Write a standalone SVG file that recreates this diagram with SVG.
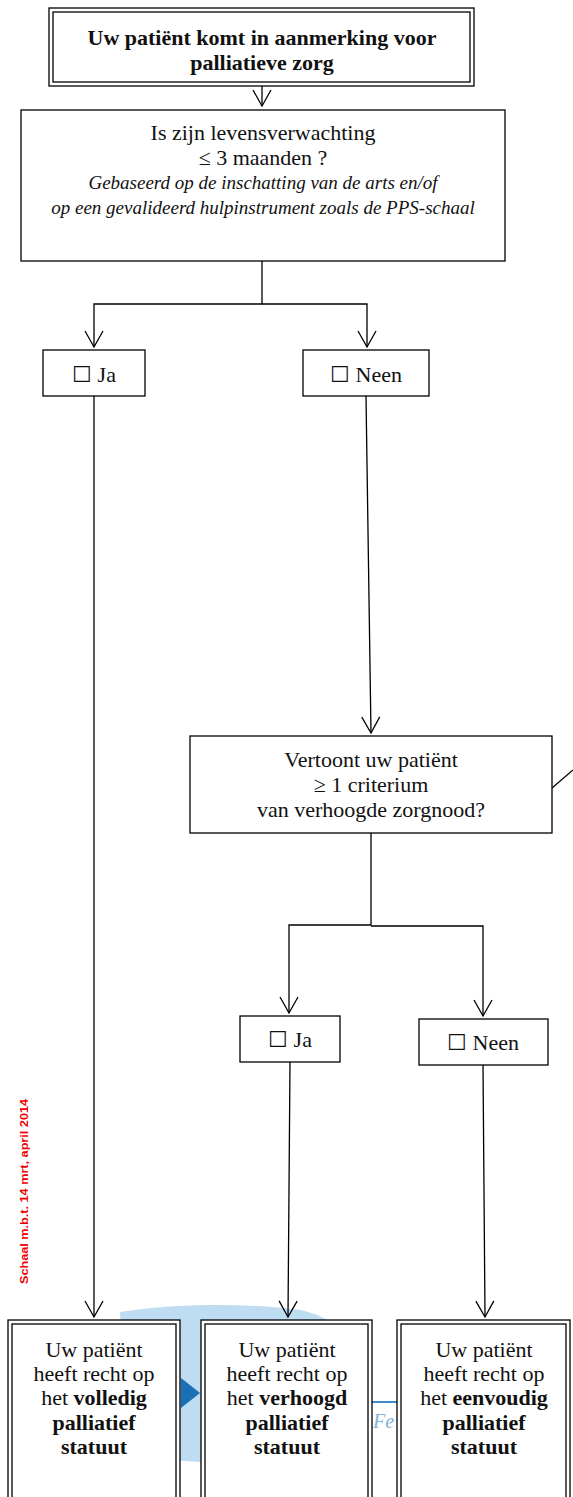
<svg xmlns="http://www.w3.org/2000/svg" width="573" height="1497" viewBox="0 0 573 1497">
<style>
.box{fill:#fff;stroke:#000;stroke-width:1.3}
.dbl{fill:none;stroke:#000;stroke-width:1.3}
.t{font-family:"Liberation Serif",serif;font-size:22px;fill:#111;text-anchor:middle}
.b{font-weight:bold}
.i{font-style:italic;font-size:19px}
.c{fill:none;stroke:#000;stroke-width:1.3}
</style>
<defs>
<marker id="ah" viewBox="0 0 20 20" refX="18" refY="10" markerWidth="20" markerHeight="20" markerUnits="userSpaceOnUse" orient="auto">
<path d="M2,1 L18,10 L2,19" fill="none" stroke="#000" stroke-width="1.3"/>
</marker>
</defs>
<rect width="573" height="1497" fill="#fff"/>
<g id="watermark">
<path d="M120,1312 C170,1304 240,1302 300,1310 C330,1316 345,1330 345,1360 L345,1440 C300,1468 200,1466 130,1455 Z" fill="#a8d0ee" opacity="0.75"/>
<path d="M181,1378 L200,1393 L181,1408 Z" fill="#1a6fb5"/>
<line x1="372" y1="1402" x2="398" y2="1402" stroke="#3a8bd0" stroke-width="2"/>
<text x="373" y="1428" font-family="Liberation Serif,serif" font-style="italic" font-size="20" fill="#7eb3e0">Fe</text>
</g>
<g id="connectors">
<line class="c" x1="262" y1="86" x2="262" y2="106" marker-end="url(#ah)"/>
<path class="c" d="M262,261 V304 H94 V347" marker-end="url(#ah)"/>
<path class="c" d="M262,304 H367 V347" marker-end="url(#ah)"/>
<line class="c" x1="94" y1="396" x2="94" y2="1317" marker-end="url(#ah)"/>
<line class="c" x1="366" y1="396" x2="371" y2="733" marker-end="url(#ah)"/>
<line class="c" x1="552" y1="788" x2="573" y2="770"/>
<path class="c" d="M371,833 V925 H289 V1013" marker-end="url(#ah)"/>
<path class="c" d="M371,926 H483 V1016" marker-end="url(#ah)"/>
<line class="c" x1="290" y1="1062" x2="288" y2="1317" marker-end="url(#ah)"/>
<line class="c" x1="483" y1="1065" x2="485" y2="1317" marker-end="url(#ah)"/>
</g>
<g id="start">
<rect class="box" x="49" y="8" width="425" height="78"/>
<rect class="dbl" x="53" y="12" width="417" height="70" stroke-width="2"/>
<text class="t b" x="262" y="45">Uw patiënt komt in aanmerking voor</text>
<text class="t b" x="262" y="70">palliatieve zorg</text>
</g>
<g id="q1">
<rect class="box" x="21" y="110" width="484" height="151"/>
<text class="t" x="263" y="140">Is zijn levensverwachting</text>
<text class="t" x="263" y="165">≤ 3 maanden ?</text>
<text class="t i" x="263" y="189">Gebaseerd op de inschatting van de arts en/of</text>
<text class="t i" x="263" y="214">op een gevalideerd hulpinstrument zoals de PPS-schaal</text>
</g>
<g id="ja1">
<rect class="box" x="43" y="350" width="102" height="46"/>
<text class="t" x="94" y="382">☐ Ja</text>
</g>
<g id="neen1">
<rect class="box" x="303" y="350" width="126" height="46"/>
<text class="t" x="366" y="382">☐ Neen</text>
</g>
<g id="q2">
<rect class="box" x="190" y="736" width="362" height="97"/>
<text class="t" x="371" y="767">Vertoont uw patiënt</text>
<text class="t" x="371" y="792">≥ 1 criterium</text>
<text class="t" x="371" y="817">van verhoogde zorgnood?</text>
</g>
<g id="ja2">
<rect class="box" x="240" y="1016" width="100" height="46"/>
<text class="t" x="290" y="1047">☐ Ja</text>
</g>
<g id="neen2">
<rect class="box" x="419" y="1019" width="129" height="46"/>
<text class="t" x="483" y="1050">☐ Neen</text>
</g>
<g id="res1">
<rect class="box" x="8" y="1320" width="172" height="180"/>
<rect class="dbl" x="12" y="1324" width="164" height="180"/>
<text class="t" x="94" y="1357">Uw patiënt</text>
<text class="t" x="94" y="1381">heeft recht op</text>
<text class="t" x="94" y="1405">het <tspan class="b">volledig</tspan></text>
<text class="t b" x="94" y="1430">palliatief</text>
<text class="t b" x="94" y="1454">statuut</text>
</g>
<g id="res2">
<rect class="box" x="201" y="1320" width="171" height="180"/>
<rect class="dbl" x="205" y="1324" width="163" height="180"/>
<text class="t" x="287" y="1357">Uw patiënt</text>
<text class="t" x="287" y="1381">heeft recht op</text>
<text class="t" x="287" y="1405">het <tspan class="b">verhoogd</tspan></text>
<text class="t b" x="287" y="1430">palliatief</text>
<text class="t b" x="287" y="1454">statuut</text>
</g>
<g id="res3">
<rect class="box" x="397" y="1320" width="173" height="180"/>
<rect class="dbl" x="401" y="1324" width="165" height="180"/>
<text class="t" x="484" y="1357">Uw patiënt</text>
<text class="t" x="484" y="1381">heeft recht op</text>
<text class="t" x="484" y="1405">het <tspan class="b">eenvoudig</tspan></text>
<text class="t b" x="484" y="1430">palliatief</text>
<text class="t b" x="484" y="1454">statuut</text>
</g>
<text x="0" y="0" transform="translate(28,1284) rotate(-90)" font-family="Liberation Sans Narrow,Liberation Sans,sans-serif" font-weight="bold" font-size="11" fill="#e00" textLength="185" lengthAdjust="spacingAndGlyphs">Schaal m.b.t. 14 mrt, april 2014</text>
</svg>
